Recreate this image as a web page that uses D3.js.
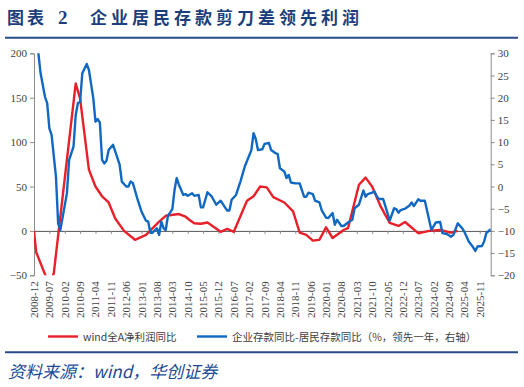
<!DOCTYPE html>
<html>
<head>
<meta charset="utf-8">
<script src="https://cdn.jsdelivr.net/npm/d3@7"></script>
<style>
  body { margin: 0; background: #fff; }
  svg text { font-family: "Liberation Serif", "Noto Sans CJK SC", serif; }
</style>
</head>
<body>
<svg id="canvas" width="524" height="387"></svg>
<script>
// x axis: monthly categories from 2008-12 to 2026-04, labels every 7 months
let startMonth = '2008-12'
let endMonth = '2026-04'
let leftTicks = [-50, 0, 50, 100, 150, 200]
let rightTicks = [-20, -15, -10, -5, 0, 5, 10, 15, 20, 25, 30]

// wind全A净利润同比 (left axis, %)
let redDates = ['2008-12','2009-01','2009-06','2009-08','2009-09','2010-07','2010-09','2011-01','2011-04','2011-07',
  '2011-10','2012-01','2012-05','2012-10','2013-03','2013-09','2013-12','2014-06','2014-09','2014-11',
  '2015-01','2015-04','2015-07','2016-01','2016-04','2016-07','2017-01','2017-04','2017-07','2017-10',
  '2018-01','2018-06','2018-10','2019-01','2019-04','2019-07','2019-10','2020-01','2020-04','2020-09',
  '2020-11','2021-04','2021-07','2021-10','2022-02','2022-06','2022-10','2023-01','2023-07','2023-12',
  '2024-05','2024-10','2025-01']
let redValues = [0, -24, -55, -54, -48, 166, 149, 69, 50, 39,
  32, 14, 0, -10, -4.5, 10.5, 17, 19, 16, 12,
  8.6, 8, 9.4, -1, 2.2, -1, 34, 39, 50, 49,
  38, 32, 22, -2, -4.5, -11, -10, 4, -8, 1,
  3, 52, 60, 50, 27, 9, 5.6, 10, -2.6, 0,
  1, -2, 0]

// 企业存款同比-居民存款同比 (right axis, %, shifted one year ahead)
let blueDates = ['2008-12','2009-02','2009-03','2009-05','2009-06','2009-07','2009-08','2009-10','2009-11','2009-12',
  '2010-03','2010-04','2010-06','2010-07','2010-08','2010-09','2010-10','2010-12','2011-01','2011-03',
  '2011-04','2011-05','2011-06','2011-07','2011-08','2011-09','2011-10','2011-12','2012-01','2012-03',
  '2012-04','2012-06','2012-07','2012-08','2012-09','2012-11','2013-01','2013-03','2013-04','2013-05',
  '2013-06','2013-08','2013-09','2013-10','2013-11','2013-12','2014-01','2014-03','2014-04','2014-05',
  '2014-06','2014-08','2014-09','2014-10','2014-12','2015-01','2015-03','2015-04','2015-05','2015-07',
  '2015-09','2015-11','2016-01','2016-03','2016-04','2016-05','2016-06','2016-08','2016-10','2016-12',
  '2017-03','2017-04','2017-05','2017-06','2017-08','2017-09','2017-11','2017-12','2018-02','2018-03',
  '2018-04','2018-06','2018-07','2018-08','2018-09','2018-11','2019-01','2019-03','2019-04','2019-05',
  '2019-07','2019-08','2019-10','2019-11','2020-01','2020-02','2020-04','2020-05','2020-06','2020-08',
  '2020-09','2020-11','2021-01','2021-02','2021-04','2021-06','2021-07','2021-08','2021-10','2021-11',
  '2021-12','2022-01','2022-03','2022-05','2022-06','2022-08','2022-09','2022-10','2022-11','2023-01',
  '2023-03','2023-04','2023-05','2023-07','2023-08','2023-10','2024-01','2024-03','2024-05','2024-06',
  '2024-08','2024-10','2024-11','2025-01','2025-03','2025-04','2025-06','2025-08','2025-09','2025-10',
  '2025-12','2026-01','2026-02','2026-04']
let blueValues = [38, 30, 25.5, 20.2, 18.8, 13.1, 11.6, 2.2, -8.3, -9.8,
  -1.5, 6, 9, 16.1, 18.8, 19.1, 25.5, 27.6, 26.3, 19.9,
  14.6, 15.2, 14.4, 6, 5.2, 5.8, 8.2, 9.4, 7.9, 4.9,
  1.1, 0, 0, 1.1, 0.8, -2.6, -5.7, -7.7, -7.9, -10.4,
  -10.4, -9.4, -10.9, -7.9, -9.4, -9.8, -6.6, -5.1, -0.8, 1.9,
  0.4, -1.9, -1.7, -2.1, -1.5, -2.1, -1.9, -4.7, -4.7, -1.3,
  -2.3, -4.1, -3.2, -4.7, -5.4, -5.4, -3, -1.9, 1.1, 4.5,
  8.2, 12, 10.7, 8.2, 8.4, 9.6, 9.8, 8.2, 7.5, 7.3,
  4.1, 3.4, 1.9, 2.6, 0.9, 0.7, 0.7, -2.3, -2.3, -1.4,
  -1.7, -3.2, -3.6, -5.3, -7, -7.1, -6, -8.6, -7.5, -8.9,
  -8.9, -8.1, -7.5, -4.9, -4.1, -0.9, -2.3, -1.7, -1.4, -1.1,
  -2.1, -2.8, -2.8, -6, -7.7, -4.9, -5.1, -5.9, -5.3, -5,
  -4.3, -3.6, -4.4, -2.9, -3.2, -3.2, -9.8, -8.1, -8, -10.5,
  -10.7, -11.3, -10.9, -8.3, -9.4, -10.2, -12.4, -13.7, -14.5, -13.5,
  -13.4, -12.4, -10.5, -9.6]

let canvas = d3.select('#canvas')

let monthIndex = (s) => {
    let p = s.split('-')
    let q = startMonth.split('-')
    return (+p[0] - +q[0]) * 12 + (+p[1] - +q[1])
}
let monthLabel = (i) => {
    let q = startMonth.split('-')
    let t = +q[0] * 12 + (+q[1] - 1) + i
    let y = Math.floor(t / 12)
    let m = t % 12 + 1
    return y + '-' + (m < 10 ? '0' + m : m)
}

let plotLeft = 34, plotRight = 490.7, plotTop = 53.3, plotBottom = 275.3

let xScale = d3.scaleLinear().domain([0, monthIndex(endMonth)]).range([plotLeft, plotRight])
let yLeft = d3.scaleLinear().domain([-50, 200]).range([plotBottom, plotTop])
let yRight = d3.scaleLinear().domain([-20, 30]).range([plotBottom, plotTop])

let navy = '#1c3f7c'

// title
let title = canvas.append('g')
    .attr('fill', navy)
    .style('font-family', '"Noto Sans CJK SC"')
    .style('font-weight', 'bold')
    .style('font-size', '17px')
    .style('letter-spacing', '3px')
title.append('text').attr('x', 7).attr('y', 24).text('图表')
title.append('text').attr('x', 58).attr('y', 24)
    .style('font-family', '"Liberation Serif", serif').style('font-size', '19px').text('2')
title.append('text').attr('x', 90).attr('y', 24)
    .style('letter-spacing', '4px').text('企业居民存款剪刀差领先利润')

canvas.append('line')
    .attr('x1', 5).attr('x2', 518).attr('y1', 37.8).attr('y2', 37.8)
    .attr('stroke', '#2a4c86').attr('stroke-width', 2)

// axes
let axisColor = '#8c8c8c'
let tickFont = (g) => {
    g.selectAll('text').attr('fill', '#404040').style('font-size', '11px')
        .style('font-family', '"Liberation Serif", serif')
    g.selectAll('line').attr('stroke', axisColor)
    g.select('.domain').attr('stroke', axisColor)
}

canvas.append('g')
    .attr('transform', 'translate(' + plotLeft + ',0)')
    .call(d3.axisLeft(yLeft).tickValues(leftTicks).tickSize(4).tickSizeOuter(4).tickPadding(3))
    .call(tickFont)

canvas.append('g')
    .attr('transform', 'translate(' + plotRight + ',0)')
    .call(d3.axisRight(yRight).tickValues(rightTicks).tickSize(4).tickSizeOuter(4).tickPadding(3))
    .call(tickFont)

// category axis at value 0
let xTicks = d3.range(0, monthIndex(endMonth) + 1, 7)
let xAxisG = canvas.append('g')
    .attr('transform', 'translate(0,' + yLeft(0) + ')')
    .call(d3.axisBottom(xScale).tickValues(xTicks).tickSize(3).tickSizeOuter(0).tickFormat(''))
    .call(tickFont)
xAxisG.select('.domain').attr('stroke', '#555')

canvas.append('g')
    .selectAll('text')
    .data(xTicks)
    .enter()
    .append('text')
    .attr('transform', (d) => 'translate(' + (xScale(d) + 4) + ',' + (plotBottom + 6) + ') rotate(-90)')
    .attr('text-anchor', 'end')
    .attr('fill', '#404040')
    .style('font-size', '11px')
    .text((d) => monthLabel(d))

// clip for series
canvas.append('clipPath').attr('id', 'plot')
    .append('rect')
    .attr('x', plotLeft).attr('y', plotTop)
    .attr('width', plotRight - plotLeft).attr('height', plotBottom - plotTop)

let redData = redDates.map((d, i) => ({ m: monthIndex(d), v: redValues[i] }))
let blueData = blueDates.map((d, i) => ({ m: monthIndex(d), v: blueValues[i] }))

canvas.append('path')
    .datum(redData)
    .attr('clip-path', 'url(#plot)')
    .attr('fill', 'none')
    .attr('stroke', '#e8202a')
    .attr('stroke-width', 2.4)
    .attr('stroke-linejoin', 'round')
    .attr('d', d3.line().x((d) => xScale(d.m)).y((d) => yLeft(d.v)))

canvas.append('path')
    .datum(blueData)
    .attr('clip-path', 'url(#plot)')
    .attr('fill', 'none')
    .attr('stroke', '#1068c2')
    .attr('stroke-width', 2.4)
    .attr('stroke-linejoin', 'round')
    .attr('d', d3.line().x((d) => xScale(d.m)).y((d) => yRight(d.v)))

// legend
let legend = [
    { name: 'wind全A净利润同比', color: '#e8202a', x: 48 },
    { name: '企业存款同比-居民存款同比（%，领先一年，右轴）', color: '#1068c2', x: 197 }
]
let lg = canvas.append('g').selectAll('g').data(legend).enter().append('g')
lg.append('line')
    .attr('x1', (d) => d.x).attr('x2', (d) => d.x + 30)
    .attr('y1', 336.5).attr('y2', 336.5)
    .attr('stroke', (d) => d.color).attr('stroke-width', 2.4)
lg.append('text')
    .attr('x', (d) => d.x + 35).attr('y', 340.5)
    .attr('fill', '#404040')
    .style('font-family', '"Noto Sans CJK SC"')
    .style('font-size', '10.5px')
    .text((d) => d.name)

canvas.append('line')
    .attr('x1', 5).attr('x2', 518).attr('y1', 352.3).attr('y2', 352.3)
    .attr('stroke', '#2a4c86').attr('stroke-width', 2)

// source
canvas.append('text')
    .attr('x', 8).attr('y', 378)
    .attr('fill', '#1d4a94')
    .style('font-family', '"Noto Sans CJK SC"')
    .style('font-style', 'italic')
    .style('font-size', '17px')
    .text('资料来源：wind，华创证券')
</script>
</body>
</html>
